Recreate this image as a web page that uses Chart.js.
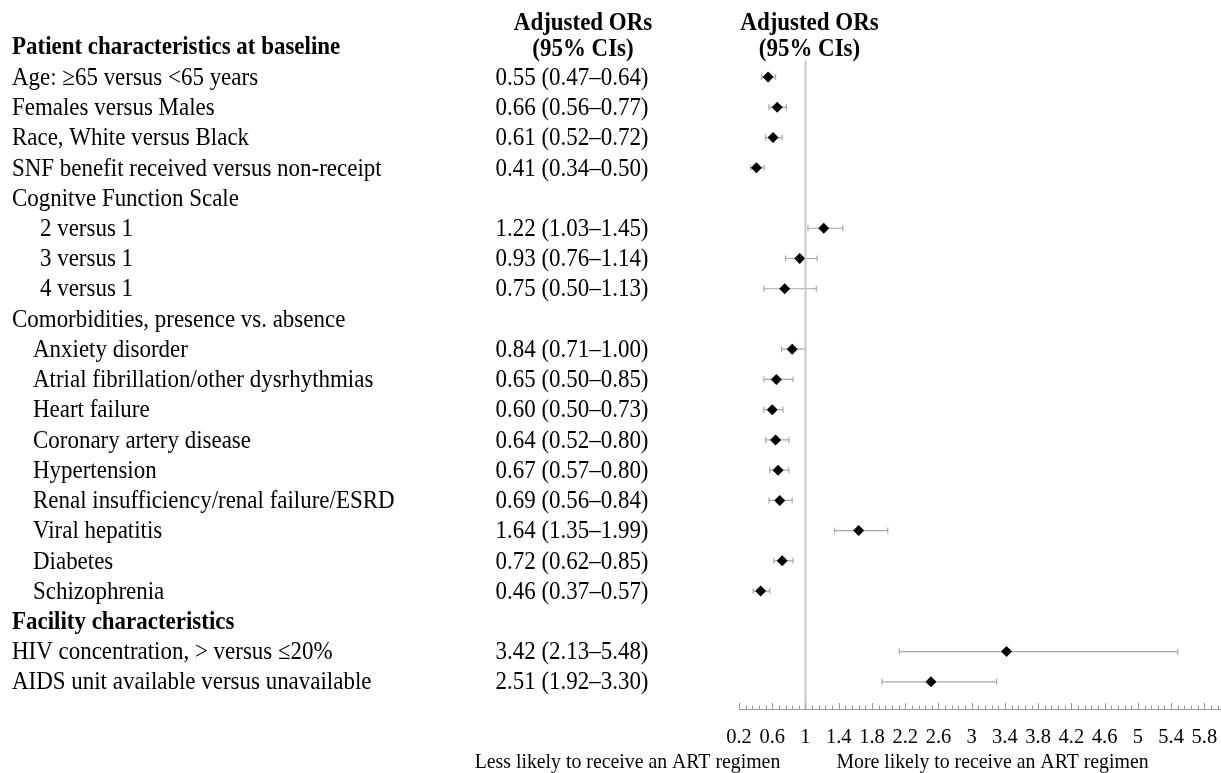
<!DOCTYPE html>
<html>
<head>
<meta charset="utf-8">
<script src="https://cdn.jsdelivr.net/npm/chart.js@4.4.1/dist/chart.umd.min.js"></script>
<style>
  html, body { margin: 0; padding: 0; background: #fff; }
  #wrap { width: 1221px; height: 773px; position: relative; }
</style>
</head>
<body>
<div id="wrap"><canvas id="forest"></canvas></div>
<script>
// rows of the table, top to bottom
const rowLabels = [
  'Patient characteristics at baseline',
  'Age: \u226565 versus <65 years',
  'Females versus Males',
  'Race, White versus Black',
  'SNF benefit received versus non-receipt',
  'Cognitve Function Scale',
  '2 versus 1',
  '3 versus 1',
  '4 versus 1',
  'Comorbidities, presence vs. absence',
  'Anxiety disorder',
  'Atrial fibrillation/other dysrhythmias',
  'Heart failure',
  'Coronary artery disease',
  'Hypertension',
  'Renal insufficiency/renal failure/ESRD',
  'Viral hepatitis',
  'Diabetes',
  'Schizophrenia',
  'Facility characteristics',
  'HIV concentration, > versus \u226420%',
  'AIDS unit available versus unavailable'
];
const orValues = [null, 0.55, 0.66, 0.61, 0.41, null, 1.22, 0.93, 0.75, null, 0.84, 0.65, 0.60, 0.64, 0.67, 0.69, 1.64, 0.72, 0.46, null, 3.42, 2.51];
const ciLower  = [null, 0.47, 0.56, 0.52, 0.34, null, 1.03, 0.76, 0.50, null, 0.71, 0.50, 0.50, 0.52, 0.57, 0.56, 1.35, 0.62, 0.37, null, 2.13, 1.92];
const ciUpper  = [null, 0.64, 0.77, 0.72, 0.50, null, 1.45, 1.14, 1.13, null, 1.00, 0.85, 0.73, 0.80, 0.80, 0.84, 1.99, 0.85, 0.57, null, 5.48, 3.30];
const xTicks = [0.2, 0.6, 1, 1.4, 1.8, 2.2, 2.6, 3, 3.4, 3.8, 4.2, 4.6, 5, 5.4, 5.8];
const headerText = ['Adjusted ORs', '(95% CIs)'];
const lessText = 'Less likely to receive an ART regimen';
const moreText = 'More likely to receive an ART regimen';

// styling of rows (kept apart from the data)
const boldRows = [0, 19];
const deepIndentRows = [6, 7, 8];
const indentRows = [10, 11, 12, 13, 14, 15, 16, 17, 18];

const FONT = '"Liberation Serif", "Times New Roman", serif';
const SQUEEZE = 0.9; // source text is a bit narrow

function fmt(v) { return v.toFixed(2); }

// draw text slightly condensed horizontally
function squeezed(ctx, text, x, y) {
  ctx.save();
  ctx.translate(x, y);
  ctx.scale(SQUEEZE, 1);
  ctx.fillText(text, 0, 0);
  ctx.restore();
}

const points = [];
orValues.forEach((v, i) => { if (v !== null) points.push({ x: v, y: i }); });

// whiskers + minor axis ticks
const whiskers = {
  id: 'whiskers',
  beforeDatasetsDraw(chart) {
    const { ctx, scales: { x, y } } = chart;
    ctx.save();
    ctx.strokeStyle = '#a8a8a8';
    ctx.lineWidth = 1.2;
    orValues.forEach((v, i) => {
      if (v === null) return;
      const py = y.getPixelForValue(i);
      const x1 = x.getPixelForValue(ciLower[i]);
      const x2 = x.getPixelForValue(ciUpper[i]);
      ctx.beginPath();
      ctx.moveTo(x1, py); ctx.lineTo(x2, py);
      ctx.moveTo(x1, py - 3); ctx.lineTo(x1, py + 3);
      ctx.moveTo(x2, py - 3); ctx.lineTo(x2, py + 3);
      ctx.stroke();
    });
    ctx.restore();
  },
  afterDraw(chart) {
    const { ctx, chartArea, scales: { x } } = chart;
    const base = chartArea.bottom;
    ctx.save();
    ctx.strokeStyle = '#9a9a9a';
    ctx.lineWidth = 1;
    for (let k = 0; k <= 72; k++) {
      const px = Math.round(x.getPixelForValue(0.2 + k * 0.08)) + 0.5;
      const len = k % 5 === 0 ? 6 : 3.5;
      ctx.beginPath();
      ctx.moveTo(px, base);
      ctx.lineTo(px, base - len);
      ctx.stroke();
    }
    ctx.restore();
  }
};

// left-hand table text and headers
const tableText = {
  id: 'tableText',
  afterDraw(chart) {
    const { ctx, scales: { x, y } } = chart;
    ctx.save();
    ctx.fillStyle = '#000';
    ctx.textBaseline = 'middle';
    rowLabels.forEach((label, i) => {
      const py = y.getPixelForValue(i) + 1;
      let px = 12;
      if (deepIndentRows.includes(i)) px = 40;
      if (indentRows.includes(i)) px = 33;
      ctx.font = (boldRows.includes(i) ? 'bold ' : '') + '25.5px ' + FONT;
      ctx.textAlign = 'left';
      squeezed(ctx, label, px, py);
      if (orValues[i] !== null) {
        ctx.font = '25.5px ' + FONT;
        ctx.textAlign = 'center';
        squeezed(ctx, fmt(orValues[i]) + ' (' + fmt(ciLower[i]) + '\u2013' + fmt(ciUpper[i]) + ')', 572, py);
      }
    });
    // column headers
    ctx.font = 'bold 25.5px ' + FONT;
    ctx.textAlign = 'center';
    const refX = x.getPixelForValue(1);
    [583, refX + 4].forEach(cx => {
      squeezed(ctx, headerText[0], cx, 23);
      squeezed(ctx, headerText[1], cx, 49);
    });
    // direction captions
    ctx.font = '22px ' + FONT;
    squeezed(ctx, lessText, refX - 178, 762);
    squeezed(ctx, moreText, refX + 187, 762);
    ctx.restore();
  }
};

new Chart(document.getElementById('forest'), {
  type: 'scatter',
  data: {
    datasets: [
      {
        type: 'line',
        data: [{ x: 1, y: 0.46 }, { x: 1, y: 21.9 }],
        borderColor: '#c8c8c8',
        borderWidth: 2,
        pointRadius: 0
      },
      {
        data: points,
        pointStyle: 'rectRot',
        pointRadius: 5.5,
        pointBackgroundColor: '#000',
        pointBorderColor: '#000',
        pointBorderWidth: 0
      }
    ]
  },
  options: {
    responsive: true,
    maintainAspectRatio: false,
    animation: false,
    layout: { autoPadding: false, padding: { left: 739, right: 0, top: 0, bottom: 0 } },
    plugins: { legend: { display: false }, tooltip: { enabled: false } },
    scales: {
      x: {
        type: 'linear',
        min: 0.2,
        max: 6.0,
        // labelled ticks plus an unlabelled one at the right end
        afterBuildTicks(scale) { scale.ticks = xTicks.concat([6.0]).map(v => ({ value: v })); },
        afterFit(scale) { scale.height = 64; },
        // invisible tick marks push the labels down (ticks.padding would shrink the plot)
        grid: { display: true, drawOnChartArea: false, drawTicks: true, tickLength: 16, tickColor: 'rgba(0,0,0,0)' },
        border: { display: true, color: '#9a9a9a', width: 1 },
        ticks: {
          autoSkip: false,
          maxRotation: 0,
          padding: 0,
          color: '#000',
          font: { family: FONT, size: 20.5 },
          callback: (v) => (xTicks.includes(v) ? String(v) : '')
        }
      },
      y: {
        type: 'linear',
        reverse: true,
        min: -1.55,
        max: 21.9,
        display: false
      }
    }
  },
  plugins: [whiskers, tableText]
});
</script>
</body>
</html>
